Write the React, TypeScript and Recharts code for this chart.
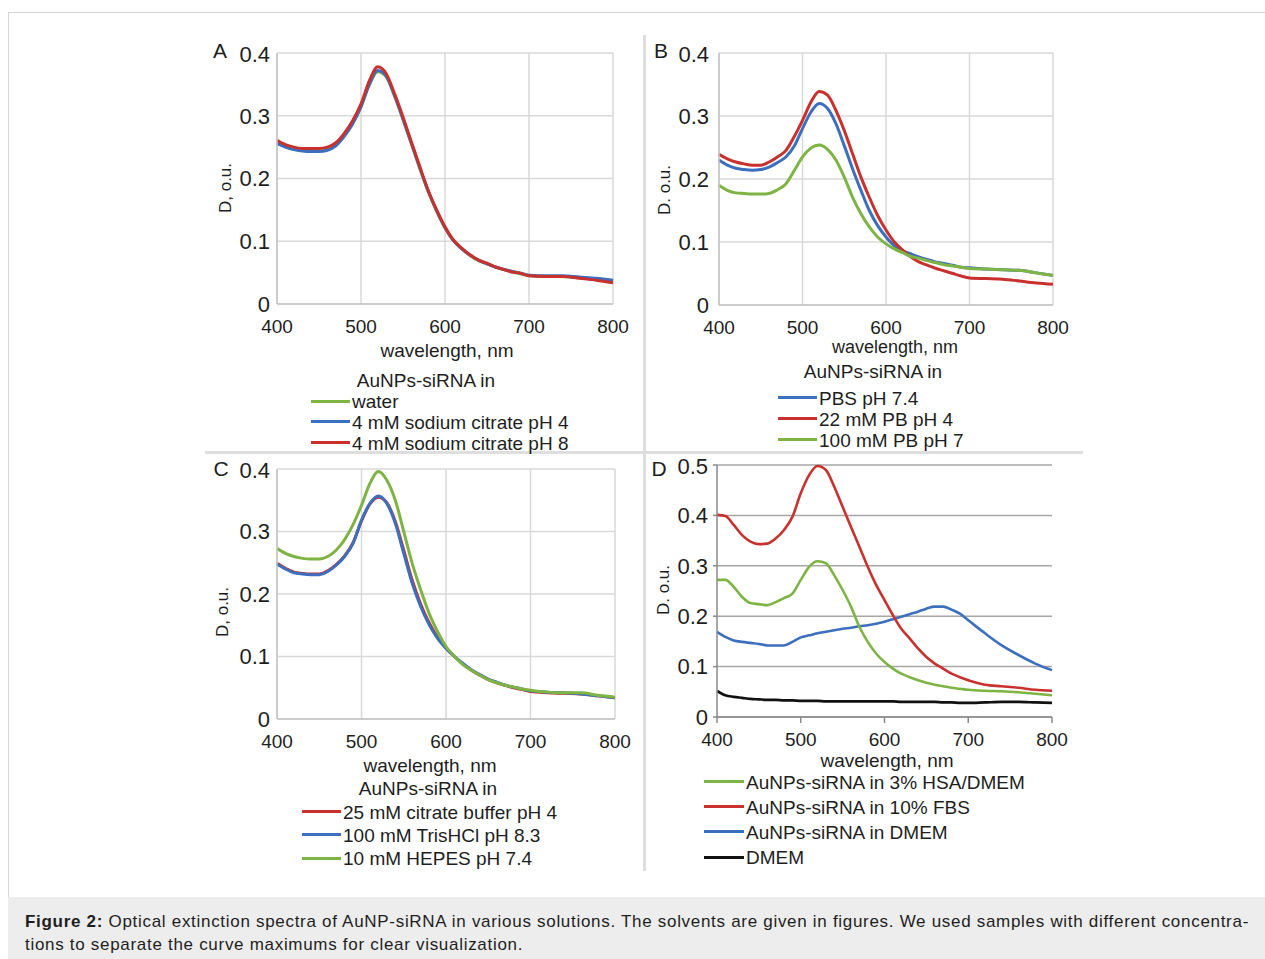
import { LineChart, Line, XAxis, YAxis, CartesianGrid } from 'recharts'

// wavelength grid shared by all panels, nm
const wavelengths = [
  400, 410, 420, 430, 440, 450, 460, 470, 480, 490, 500, 510, 520, 530, 540, 550, 560, 570,
  580, 590, 600, 610, 620, 630, 640, 650, 660, 670, 680, 690, 700, 720, 740, 760, 780, 800,
]
const xTicks = [400, 500, 600, 700, 800]

// A
const aWater = [0.257, 0.251, 0.247, 0.245, 0.244, 0.244, 0.246, 0.253, 0.268, 0.288, 0.315, 0.35, 0.37, 0.362, 0.331, 0.294, 0.255, 0.216, 0.179, 0.148, 0.121, 0.101, 0.088, 0.077, 0.069, 0.064, 0.059, 0.055, 0.051, 0.048, 0.045, 0.044, 0.044, 0.042, 0.04, 0.037]
const aCitrate4 = [0.256, 0.25, 0.246, 0.244, 0.243, 0.243, 0.245, 0.252, 0.267, 0.287, 0.314, 0.35, 0.372, 0.363, 0.332, 0.295, 0.256, 0.217, 0.18, 0.149, 0.122, 0.101, 0.088, 0.078, 0.07, 0.064, 0.059, 0.055, 0.052, 0.049, 0.046, 0.045, 0.045, 0.043, 0.041, 0.038]
const aCitrate8 = [0.261, 0.254, 0.25, 0.248, 0.248, 0.248, 0.25, 0.257, 0.272, 0.292, 0.319, 0.356, 0.378, 0.367, 0.335, 0.298, 0.258, 0.219, 0.181, 0.15, 0.123, 0.102, 0.089, 0.078, 0.07, 0.065, 0.059, 0.055, 0.051, 0.049, 0.045, 0.044, 0.044, 0.041, 0.038, 0.034]

// B
const bPbs = [0.23, 0.222, 0.217, 0.215, 0.214, 0.215, 0.219, 0.226, 0.235, 0.252, 0.28, 0.306, 0.32, 0.312, 0.288, 0.253, 0.216, 0.182, 0.15, 0.126, 0.108, 0.094, 0.086, 0.081, 0.076, 0.072, 0.068, 0.066, 0.063, 0.06, 0.059, 0.057, 0.056, 0.055, 0.051, 0.047]
const bPb4 = [0.239, 0.232, 0.227, 0.224, 0.222, 0.222, 0.227, 0.235, 0.245, 0.267, 0.293, 0.322, 0.339, 0.333, 0.309, 0.277, 0.24, 0.203, 0.171, 0.142, 0.119, 0.1, 0.087, 0.076, 0.068, 0.063, 0.058, 0.054, 0.05, 0.046, 0.043, 0.042, 0.041, 0.038, 0.035, 0.033]
const bPb7 = [0.19, 0.182, 0.178, 0.177, 0.176, 0.176, 0.177, 0.183, 0.192, 0.213, 0.235, 0.249, 0.254, 0.247, 0.23, 0.203, 0.171, 0.145, 0.124, 0.108, 0.097, 0.089, 0.083, 0.077, 0.074, 0.07, 0.067, 0.064, 0.062, 0.06, 0.058, 0.057, 0.056, 0.055, 0.051, 0.047]

// C
const cCitrate = [0.249, 0.241, 0.235, 0.233, 0.232, 0.232, 0.237, 0.247, 0.261, 0.282, 0.317, 0.344, 0.355, 0.346, 0.316, 0.27, 0.222, 0.184, 0.154, 0.131, 0.114, 0.1, 0.088, 0.078, 0.07, 0.063, 0.058, 0.054, 0.05, 0.047, 0.044, 0.042, 0.041, 0.04, 0.037, 0.034]
const cTris = [0.248, 0.24, 0.234, 0.232, 0.231, 0.231, 0.236, 0.246, 0.26, 0.281, 0.318, 0.345, 0.357, 0.345, 0.313, 0.265, 0.217, 0.18, 0.151, 0.129, 0.113, 0.1, 0.089, 0.079, 0.071, 0.064, 0.059, 0.054, 0.051, 0.048, 0.045, 0.043, 0.042, 0.04, 0.037, 0.034]
const cHepes = [0.273, 0.265, 0.26, 0.257, 0.256, 0.256, 0.26, 0.27, 0.287, 0.311, 0.342, 0.377, 0.396, 0.382, 0.35, 0.3, 0.249, 0.207, 0.169, 0.14, 0.116, 0.1, 0.087, 0.078, 0.07, 0.063, 0.058, 0.054, 0.051, 0.048, 0.046, 0.043, 0.042, 0.042, 0.038, 0.035]

// D
const dHsa = [0.272, 0.272, 0.258, 0.238, 0.226, 0.224, 0.222, 0.228, 0.236, 0.245, 0.272, 0.298, 0.309, 0.305, 0.281, 0.252, 0.219, 0.179, 0.149, 0.126, 0.109, 0.096, 0.086, 0.079, 0.073, 0.068, 0.064, 0.061, 0.058, 0.056, 0.054, 0.052, 0.051, 0.049, 0.046, 0.043]
const dFbs = [0.401, 0.399, 0.381, 0.361, 0.348, 0.343, 0.344, 0.354, 0.371, 0.397, 0.444, 0.48, 0.498, 0.49, 0.457, 0.417, 0.377, 0.338, 0.298, 0.262, 0.232, 0.202, 0.175, 0.156, 0.136, 0.119, 0.106, 0.096, 0.086, 0.079, 0.073, 0.064, 0.061, 0.058, 0.054, 0.052]
const dDmemNp = [0.169, 0.159, 0.152, 0.149, 0.147, 0.145, 0.142, 0.142, 0.142, 0.149, 0.158, 0.162, 0.166, 0.169, 0.172, 0.175, 0.177, 0.18, 0.182, 0.185, 0.189, 0.194, 0.199, 0.204, 0.209, 0.215, 0.219, 0.219, 0.213, 0.205, 0.192, 0.166, 0.142, 0.123, 0.106, 0.093]
const dDmem = [0.052, 0.043, 0.04, 0.038, 0.036, 0.035, 0.034, 0.034, 0.033, 0.033, 0.032, 0.032, 0.032, 0.031, 0.031, 0.031, 0.031, 0.031, 0.031, 0.031, 0.031, 0.031, 0.03, 0.03, 0.03, 0.03, 0.03, 0.029, 0.029, 0.028, 0.028, 0.029, 0.03, 0.03, 0.029, 0.028]

const GREEN = '#7db443'
const BLUE = '#3c6fbe'
const RED = '#c8312d'
const BLACK = '#111111'
const FONT = '"Liberation Sans", Arial, sans-serif'
const TEXT = '#1e1e1e'

type Series = { name: string; color: string; values: number[] }

function Panel({ x, y, w, h, yMax, yTicks, series, order, style, yGap }: any) {
  const mLeft = 70
  const mTop = 12
  const mRight = 30
  const xH = 40
  const data = wavelengths.map((wl, i) => {
    const row: any = { wl }
    series.forEach((s: Series, k: number) => (row['s' + k] = s.values[i]))
    return row
  })
  const dark = style === 'D'
  const axisColor = dark ? '#8a8a8a' : '#c4c4c4'
  return (
    <div style={{ position: 'absolute', left: x - mLeft, top: y - mTop }}>
      <LineChart
        width={w + mLeft + mRight}
        height={h + mTop + xH}
        data={data}
        margin={{ top: mTop, right: mRight, left: 0, bottom: 0 }}
      >
        <CartesianGrid stroke={dark ? '#a6a6a6' : '#d9d9d9'} strokeWidth={1.5} vertical={!dark} />
        <XAxis
          dataKey="wl"
          type="number"
          domain={[400, 800]}
          ticks={xTicks}
          height={xH}
          axisLine={{ stroke: axisColor, strokeWidth: 1.5 }}
          tickLine={dark ? { stroke: axisColor, strokeWidth: 1.5 } : false}
          tickSize={6}
          tickMargin={10}
          tick={{ fill: TEXT, fontSize: 19, fontFamily: FONT }}
        />
        <YAxis
          width={mLeft}
          domain={[0, yMax]}
          ticks={yTicks}
          tickFormatter={(v: number) => String(v)}
          axisLine={{ stroke: axisColor, strokeWidth: 1.5 }}
          tickLine={dark ? { stroke: axisColor, strokeWidth: 1.5 } : false}
          tickSize={dark ? 4 : 0}
          tickMargin={yGap}
          tick={{ fill: TEXT, fontSize: 22, fontFamily: FONT }}
        />
        {order.map((k: number) => (
          <Line
            key={k}
            dataKey={'s' + k}
            type="monotone"
            stroke={series[k].color}
            strokeWidth={dark ? 2.6 : 3}
            dot={false}
            isAnimationActive={false}
          />
        ))}
      </LineChart>
    </div>
  )
}

function Txt({ x, y, size = 19, anchor = 'center', children, rotate = false, weight = 400 }: any) {
  const tx = anchor === 'center' ? '-50%' : '0'
  return (
    <div
      style={{
        position: 'absolute',
        left: x,
        top: y,
        transform: rotate ? 'translate(-50%, -50%) rotate(-90deg)' : `translate(${tx}, -50%)`,
        fontFamily: FONT,
        fontSize: size,
        fontWeight: weight,
        color: TEXT,
        whiteSpace: 'nowrap',
        lineHeight: 1,
      }}
    >
      {children}
    </div>
  )
}

function Legend({ lineX, textX, y0, step, items }: any) {
  return (
    <>
      {items.map((s: Series, i: number) => (
        <div key={i}>
          <div
            style={{
              position: 'absolute',
              left: lineX,
              top: y0 + i * step - 1.5,
              width: textX - lineX - 2,
              height: 3,
              background: s.color,
            }}
          />
          <Txt x={textX} y={y0 + i * step} anchor="left">
            {s.name}
          </Txt>
        </div>
      ))}
    </>
  )
}

const seriesA: Series[] = [
  { name: 'water', color: GREEN, values: aWater },
  { name: '4 mM sodium citrate pH 4', color: BLUE, values: aCitrate4 },
  { name: '4 mM sodium citrate pH 8', color: RED, values: aCitrate8 },
]
const seriesB: Series[] = [
  { name: 'PBS pH 7.4', color: BLUE, values: bPbs },
  { name: '22 mM PB pH 4', color: RED, values: bPb4 },
  { name: '100 mM PB pH 7', color: GREEN, values: bPb7 },
]
const seriesC: Series[] = [
  { name: '25 mM citrate buffer pH 4', color: RED, values: cCitrate },
  { name: '100 mM TrisHCl pH 8.3', color: BLUE, values: cTris },
  { name: '10 mM HEPES pH 7.4', color: GREEN, values: cHepes },
]
const seriesD: Series[] = [
  { name: 'AuNPs-siRNA in 3% HSA/DMEM', color: GREEN, values: dHsa },
  { name: 'AuNPs-siRNA in 10% FBS', color: RED, values: dFbs },
  { name: 'AuNPs-siRNA in DMEM', color: BLUE, values: dDmemNp },
  { name: 'DMEM', color: BLACK, values: dDmem },
]

const tick4 = [0, 0.1, 0.2, 0.3, 0.4]
const tick5 = [0, 0.1, 0.2, 0.3, 0.4, 0.5]

export default function App() {
  return (
    <div style={{ position: 'absolute', left: 0, top: 0, width: 1265, height: 959, background: '#fff', overflow: 'hidden' }}>
      {/* frame and dividers */}
      <div style={{ position: 'absolute', left: 8, top: 12, width: 1257, height: 1, background: '#d6d6d6' }} />
      <div style={{ position: 'absolute', left: 8, top: 12, width: 1, height: 885, background: '#d6d6d6' }} />
      <div style={{ position: 'absolute', left: 643, top: 35, width: 3, height: 836, background: '#dedede' }} />
      <div style={{ position: 'absolute', left: 205, top: 451, width: 878, height: 3, background: '#dedede' }} />

      <Panel x={277} y={53} w={336} h={251} yMax={0.4} yTicks={tick4} series={seriesA} order={[0, 1, 2]} yGap={7} />
      <Panel x={719} y={53} w={334} h={252} yMax={0.4} yTicks={tick4} series={seriesB} order={[0, 1, 2]} yGap={10} />
      <Panel x={277} y={469} w={338} h={250} yMax={0.4} yTicks={tick4} series={seriesC} order={[0, 1, 2]} yGap={7} />
      <Panel x={717} y={465} w={335} h={252} yMax={0.5} yTicks={tick5} series={seriesD} order={[3, 2, 0, 1]} style="D" yGap={5} />

      {/* panel letters */}
      <Txt x={220} y={50} size={21}>A</Txt>
      <Txt x={661} y={50} size={21}>B</Txt>
      <Txt x={221} y={468} size={21}>C</Txt>
      <Txt x={659} y={468} size={21}>D</Txt>

      {/* y axis titles */}
      <Txt x={225} y={188} size={17} rotate>D, o.u.</Txt>
      <Txt x={664} y={190} size={17} rotate>D. o.u.</Txt>
      <Txt x={222} y={612} size={17} rotate>D, o.u.</Txt>
      <Txt x={663} y={590} size={17} rotate>D. o.u.</Txt>

      {/* x axis titles */}
      <Txt x={447} y={350}>wavelength, nm</Txt>
      <Txt x={895} y={347} size={18}>wavelength, nm</Txt>
      <Txt x={430} y={765}>wavelength, nm</Txt>
      <Txt x={887} y={760}>wavelength, nm</Txt>

      {/* legends */}
      <Txt x={426} y={380}>AuNPs-siRNA in</Txt>
      <Legend lineX={311} textX={352} y0={401} step={20.8} items={seriesA} />
      <Txt x={873} y={371}>AuNPs-siRNA in</Txt>
      <Legend lineX={778} textX={819} y0={397.5} step={21} items={seriesB} />
      <Txt x={428} y={788}>AuNPs-siRNA in</Txt>
      <Legend lineX={302} textX={343} y0={811.5} step={23.3} items={seriesC} />
      <Legend lineX={704} textX={746} y0={781.5} step={25.2} items={seriesD} />

      {/* caption */}
      <div style={{ position: 'absolute', left: 8, top: 897, width: 1257, height: 62, background: '#ededed' }} />
      <div style={{ position: 'absolute', left: 25, top: 910, fontFamily: FONT, fontSize: 17, letterSpacing: 0.7, color: TEXT, whiteSpace: 'nowrap', lineHeight: '23px' }}>
        <div>
          <b>Figure 2:</b> Optical extinction spectra of AuNP-siRNA in various solutions. The solvents are given in figures. We used samples with different concentra-
        </div>
        <div>tions to separate the curve maximums for clear visualization.</div>
      </div>
    </div>
  )
}
